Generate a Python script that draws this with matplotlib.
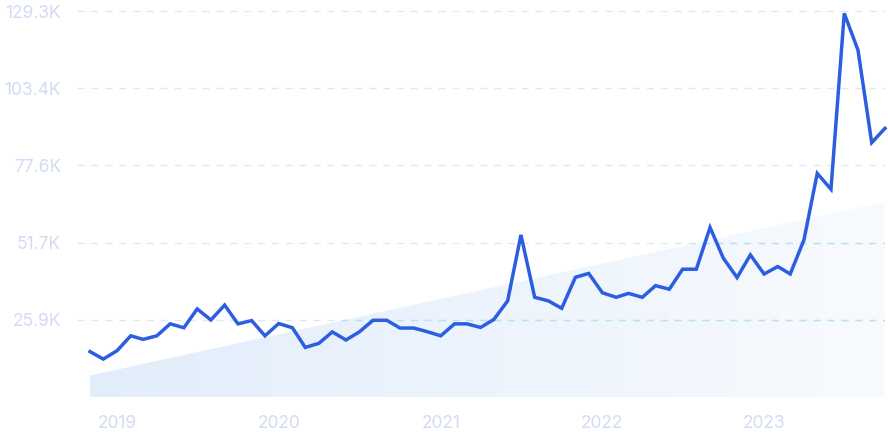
import numpy as np
import pandas as pd
import matplotlib
matplotlib.use("Agg")
from matplotlib import pyplot as plt
import matplotlib.dates as mdates
from matplotlib.ticker import FixedLocator

# monthly search volume, thousands (Nov 2018 .. Oct 2023)
start_month = "2018-11-01"
volume = [15.2, 12.7, 15.5, 20.5, 19.3, 20.5, 24.5, 23.2, 29.5, 25.8,
          30.8, 24.5, 25.6, 20.5, 24.6, 23.2, 16.6, 18.0, 21.8, 19.1,
          21.8, 25.7, 25.7, 23.1, 23.1, 21.9, 20.5, 24.5, 24.5, 23.3,
          26.0, 32.2, 54.3, 33.4, 32.2, 29.7, 40.1, 41.4, 34.9, 33.4,
          34.7, 33.4, 37.3, 36.1, 42.8, 42.8, 56.8, 46.5, 40.0, 47.6,
          41.2, 43.7, 41.2, 52.6, 74.9, 69.6, 128.5, 116.2, 85.2, 90.0]
trend_ends = [7.2, 65.4]
y_ticks = [25.9, 51.7, 77.6, 103.4, 129.3]
y_labels = ["25.9K", "51.7K", "77.6K", "103.4K", "129.3K"]
years = [2019, 2020, 2021, 2022, 2023]

months = pd.date_range(start_month, periods=len(volume), freq="MS")
x = mdates.date2num(months)

plt.rcParams['font.family'] = ['Inter', 'DejaVu Sans']
fig = plt.figure(figsize=(8.88, 4.43), dpi=100)
ax = fig.add_axes([90 / 888, 1 - 397 / 443, 795 / 888, 386 / 443])
ax.set_xlim(x[0], x[-1])
ax.set_ylim(0, 129.3)

# trend area with a fading gradient
trend = np.interp(x, [x[0], x[-1]], trend_ends)
poly = ax.fill_between(x, 0, trend, color="none", lw=0)
grad = np.linspace(1.0, 0.25, 256).reshape(1, -1)
rgba = np.zeros((1, 256, 4))
rgba[..., 0] = 0.89
rgba[..., 1] = 0.93
rgba[..., 2] = 0.985
rgba[..., 3] = grad
img = ax.imshow(rgba, extent=[x[0], x[-1], 0, max(trend_ends)], aspect="auto",
                origin="lower", zorder=1)
path = poly.get_paths()[0]
img.set_clip_path(path, transform=ax.transData)

# dashed gridlines, extending a bit left of the axes
tr = ax.get_yaxis_transform()
for yv in y_ticks:
    ax.plot([-0.016, 1.0], [yv, yv], transform=tr, color="#dfe6f7", lw=1,
            dashes=(5, 5), clip_on=False, zorder=2)
    g, = ax.plot([-0.016, 1.0], [yv, yv], transform=tr, color="#b6e1fb", lw=1,
                 dashes=(5, 5), zorder=2)
    g.set_clip_path(path, transform=ax.transData)

ax.plot(x, volume, color="#2b5ee1", lw=2.5, solid_joinstyle="miter",
        clip_on=False, zorder=3)

for s in ax.spines.values():
    s.set_visible(False)
ax.yaxis.set_major_locator(FixedLocator(y_ticks))
ax.set_yticklabels(y_labels)
ax.set_xticks(mdates.date2num([pd.Timestamp(f"{y}-01-01") for y in years]))
ax.set_xticklabels([str(y) for y in years])
ax.tick_params(axis="both", length=0, labelsize=12.5, labelcolor="#d3dbf4")
ax.tick_params(axis="y", pad=21)
ax.tick_params(axis="x", pad=13)

fig.savefig("out.png", dpi=100)
